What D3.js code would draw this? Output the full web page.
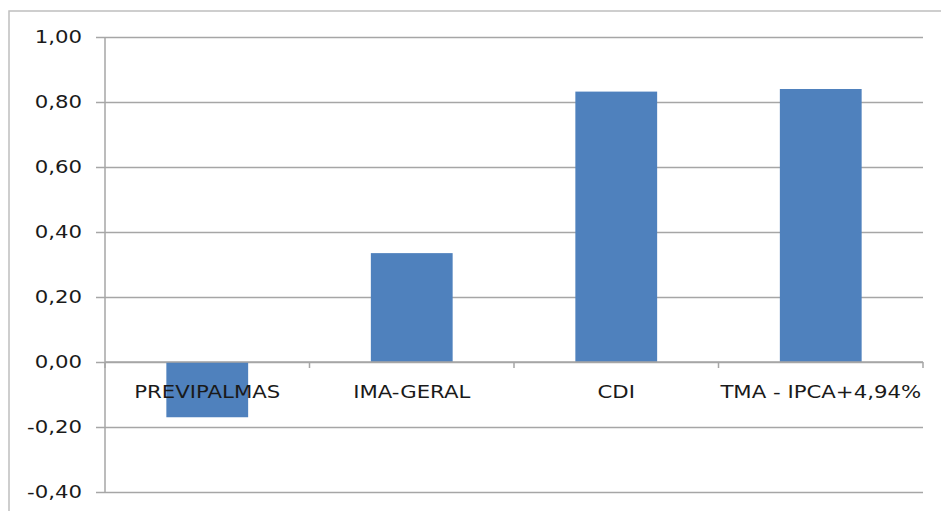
<!DOCTYPE html>
<html><head><meta charset="utf-8">
<script src="https://cdn.jsdelivr.net/npm/d3@7"></script>
<style>body{margin:0;background:#fff;}svg{display:block;}</style>
</head><body>
<script>
const categories = ["PREVIPALMAS", "IMA-GERAL", "CDI", "TMA - IPCA+4,94%"];
const values = [-0.17, 0.335, 0.832, 0.84];
const yTicks = [-0.4, -0.2, 0, 0.2, 0.4, 0.6, 0.8, 1.0];

(function () {
const W = 941, H = 511;
const SX = 1.25;
const svg = d3.select("body").append("svg").attr("width", W).attr("height", H);

// outer chart frame
svg.append("rect").attr("x", 9).attr("y", 11).attr("width", W + 10).attr("height", H + 10)
  .attr("fill", "none").attr("stroke", "#bfbfbf").attr("stroke-width", 1.5);

const pL = 105, pR = 923, pT = 37, pB = 492;
const x = d3.scaleBand().domain(categories).range([pL, pR]).padding(0);
const y = d3.scaleLinear().domain([-0.4, 1.0]).range([pB, pT]);
const fmt = v => d3.format(".2f")(v).replace(".", ",").replace("−", "-");

// gridlines + y labels
const gy = svg.append("g").attr("transform", `translate(${pR},0)`);
gy.call(d3.axisLeft(y).tickValues(yTicks).tickSize(pR - pL + 9).tickFormat(fmt).tickPadding(14));
gy.select(".domain").remove();
gy.selectAll(".tick line").attr("stroke", "#a6a6a6").attr("stroke-width", 1.5);
gy.selectAll(".tick text")
  .attr("x", null)
  .attr("transform", `translate(${-(pR - pL + 9) - 14},0) scale(${SX},1)`)
  .attr("font-family", "DejaVu Sans").attr("font-size", 17)
  .attr("fill", "#1a1a1a");

// y axis line
svg.append("line").attr("x1", pL).attr("x2", pL).attr("y1", pT).attr("y2", pB)
  .attr("stroke", "#a6a6a6").attr("stroke-width", 1.5);

// bars
const bw = x.bandwidth() * 0.4;
svg.append("g").selectAll("rect").data(categories).join("rect")
  .attr("x", (d) => x(d) + (x.bandwidth() - bw) / 2)
  .attr("width", bw)
  .attr("y", (d, i) => y(Math.max(0, values[i])))
  .attr("height", (d, i) => Math.abs(y(values[i]) - y(0)))
  .attr("fill", "#4f81bd");

// category axis at zero
const gx = svg.append("g").attr("transform", `translate(0,${y(0)})`);
gx.append("line").attr("x1", pL).attr("x2", pR).attr("stroke", "#a6a6a6").attr("stroke-width", 1.5);
const bounds = categories.map(c => x(c)).concat([pR]);
gx.selectAll("line.tk").data(bounds).join("line").attr("class", "tk")
  .attr("x1", d => d).attr("x2", d => d).attr("y1", 0).attr("y2", 6)
  .attr("stroke", "#a6a6a6").attr("stroke-width", 1.5);
gx.selectAll("text").data(categories).join("text")
  .attr("transform", d => `translate(${x(d) + x.bandwidth() / 2},31) scale(${SX},1)`)
  .attr("text-anchor", "middle")
  .attr("dominant-baseline", "middle")
  .attr("font-family", "DejaVu Sans").attr("font-size", 17)
  .attr("fill", "#1a1a1a")
  .text(d => d);
})();
</script>
</body></html>
